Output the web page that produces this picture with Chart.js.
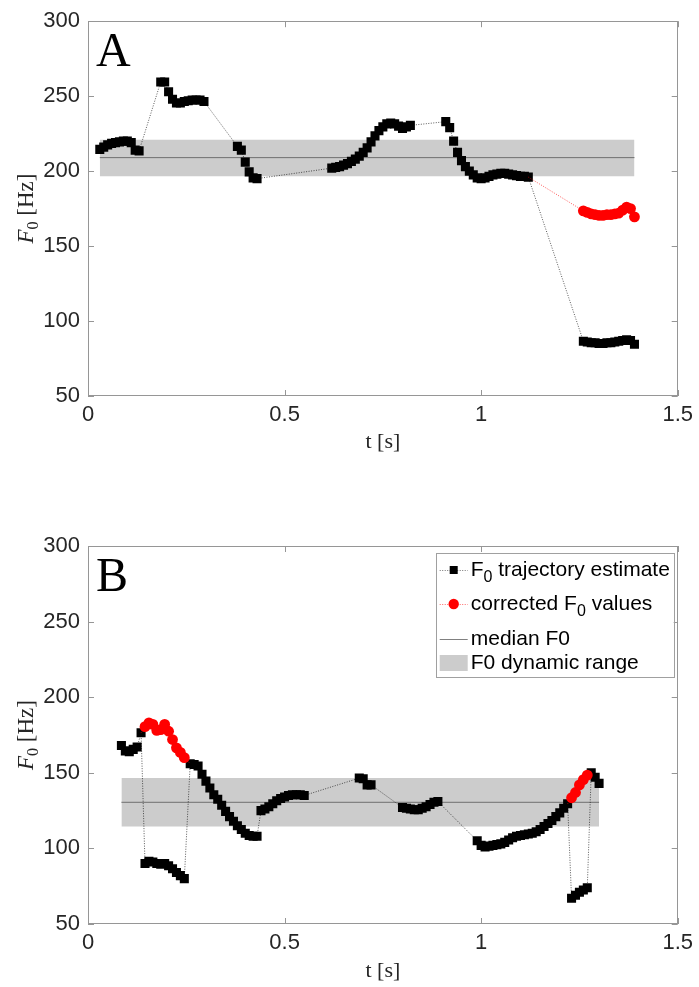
<!DOCTYPE html>
<html lang="en">
<head>
<meta charset="UTF-8">
<title>F0 trajectory estimates</title>
<script src="https://cdn.jsdelivr.net/npm/chart.js@4.4.0/dist/chart.umd.min.js"></script>
<style>
  html, body { margin: 0; padding: 0; background: #fff; }
  .panel { position: absolute; left: 0; width: 699px; }
  #panelA { top: 0; height: 470px; }
  #panelB { top: 500px; height: 487px; }
</style>
</head>
<body>
<div class="panel" id="panelA"><canvas id="chartA"></canvas></div>
<div class="panel" id="panelB"><canvas id="chartB"></canvas></div>

<script>
// ---- Panel A data ----
const timeA = [0.03, 0.04, 0.05, 0.06, 0.07, 0.08, 0.09, 0.10, 0.11, 0.12, 0.13,
  0.185, 0.195, 0.205, 0.215, 0.225, 0.235, 0.245, 0.255, 0.265, 0.275, 0.285, 0.295,
  0.38, 0.39, 0.40, 0.41, 0.42, 0.43,
  0.62, 0.63, 0.64, 0.65, 0.66, 0.67, 0.68, 0.69, 0.70, 0.71, 0.72, 0.73, 0.74, 0.75,
  0.76, 0.77, 0.78, 0.79, 0.80, 0.81, 0.82,
  0.91, 0.92, 0.93, 0.94, 0.95, 0.96, 0.97, 0.98, 0.99, 1.00, 1.01, 1.02, 1.03, 1.04,
  1.05, 1.06, 1.07, 1.08, 1.09, 1.10, 1.11, 1.12,
  1.26, 1.27, 1.28, 1.29, 1.30, 1.31, 1.32, 1.33, 1.34, 1.35, 1.36, 1.37, 1.38, 1.39];
const f0A = [214.5, 216, 217.5, 218.5, 219, 219.5, 220, 220, 219, 214, 213.5,
  259.5, 259.5, 253, 248, 245.5, 245.5, 246.5, 247, 247.5, 247.5, 247.5, 246.5,
  216.5, 214, 206, 199.5, 195.5, 195,
  202, 202.5, 203, 204, 205, 206.5, 208, 210, 212.5, 215.5, 219.5, 223.5, 227, 229.5,
  231.5, 232, 231.5, 230, 228.5, 229.5, 230.5,
  233, 229, 220, 212.5, 207, 203, 200, 197.5, 195.5, 195, 195.5, 196.5, 197.5, 198,
  198.5, 198.5, 198, 197.5, 197, 196.5, 196.5, 196,
  86.5, 86, 85.5, 85.5, 85, 85, 85.5, 85.5, 86, 86.5, 87, 87.5, 87, 84.5];
const corrTimeA = [1.12, 1.26, 1.27, 1.28, 1.29, 1.30, 1.31, 1.32, 1.33, 1.34, 1.35, 1.36, 1.37, 1.38, 1.39];
const corrF0A = [196, 173.5, 172.5, 171.5, 171, 170.5, 170.5, 171, 171, 171.5, 172, 174, 176, 175, 169.5];
const spanA = [0.03, 1.39];
const rangeA = [196.5, 221];
const medianA = 209;

// ---- Panel B data ----
const timeB = [0.085, 0.095, 0.105, 0.115, 0.125, 0.135,
  0.145, 0.155, 0.165, 0.175, 0.185, 0.195, 0.205, 0.215, 0.225, 0.235, 0.245,
  0.26, 0.27, 0.28, 0.29, 0.30, 0.31, 0.32, 0.33, 0.34, 0.35, 0.36, 0.37, 0.38, 0.39,
  0.40, 0.41, 0.42, 0.43,
  0.44, 0.45, 0.46, 0.47, 0.48, 0.49, 0.50, 0.51, 0.52, 0.53, 0.54, 0.55,
  0.69, 0.70, 0.71, 0.72,
  0.80, 0.81, 0.82, 0.83, 0.84, 0.85, 0.86, 0.87, 0.88, 0.89,
  0.99, 1.00, 1.01, 1.02, 1.03, 1.04, 1.05, 1.06, 1.07, 1.08, 1.09, 1.10, 1.11, 1.12,
  1.13, 1.14, 1.15, 1.16, 1.17, 1.18, 1.19, 1.20, 1.21, 1.22,
  1.23, 1.24, 1.25, 1.26, 1.27,
  1.28, 1.29, 1.30];
const f0B = [168, 164.5, 164, 165.5, 167, 176.5,
  90, 91.5, 91, 90, 89.5, 90, 88.5, 86.5, 84, 82, 80,
  156, 155.5, 154.5, 149, 144.5, 140, 135.5, 132.5, 128.5, 124.5, 121, 118, 115, 112.5,
  110, 108.5, 108, 108,
  125, 126, 127.5, 129.5, 131.5, 133, 134, 135, 135.5, 135.5, 135.5, 135,
  146.5, 146, 142, 142,
  127, 126.5, 126, 125.5, 125.5, 126.5, 127.5, 129, 130.5, 131,
  105, 102, 101, 101.5, 102, 102.5, 103, 104, 105.5, 107, 108, 108.5, 109, 109.5,
  110, 111, 112.5, 114.5, 116.5, 118.5, 121, 123.5, 126.5, 129.5,
  67, 69, 71, 72.5, 74,
  150, 147, 143];
const corrTimeB = [0.135, 0.145, 0.155, 0.165, 0.175, 0.185, 0.195, 0.205, 0.215, 0.225, 0.235, 0.245, 0.26,
  null, 1.22, 1.23, 1.24, 1.25, 1.26, 1.27, 1.28];
const corrF0B = [176.5, 180.5, 183, 182, 178, 178.5, 182, 177.5, 172, 166.5, 163.5, 160, 156,
  null, 129.5, 133.5, 137, 142, 145.5, 148.5, 150];
const spanB = [0.085, 1.30];
const rangeB = [114.5, 146.5];
const medianB = 130.5;

const tickFont = { family: 'Liberation Sans', size: 22 };
const serif = '"Liberation Serif", "DejaVu Serif", serif';
const sans = '"Liberation Sans", Arial, sans-serif';

function toPoints(ts, fs) {
  return ts.map((t, i) => (t === null ? { x: NaN, y: NaN } : { x: t, y: fs[i] }));
}

// corrected points that coincide with the estimate are only line anchors
function anchorRadius(ts, fs, baseT, baseF) {
  return ts.map((t, i) => baseT.some((bt, j) => bt === t && baseF[j] === fs[i]) ? 0 : 5.4);
}

// box, inward ticks, panel letter and axis titles
const framePlugin = {
  id: 'frame',
  afterDatasetsDraw(chart, args, opts) {
    const { ctx, chartArea: a, scales: { x, y } } = chart;
    ctx.save();
    ctx.strokeStyle = '#969696';
    ctx.lineWidth = 1;
    ctx.strokeRect(Math.round(a.left) + 0.5, Math.round(a.top) + 0.5,
      Math.round(a.width) - 1, Math.round(a.height) - 1);
    const len = 6;
    ctx.beginPath();
    x.ticks.forEach(tk => {
      const px = Math.round(x.getPixelForValue(tk.value)) + 0.5;
      ctx.moveTo(px, a.bottom); ctx.lineTo(px, a.bottom - len);
      ctx.moveTo(px, a.top); ctx.lineTo(px, a.top + len);
    });
    y.ticks.forEach(tk => {
      const py = Math.round(y.getPixelForValue(tk.value)) + 0.5;
      ctx.moveTo(a.left, py); ctx.lineTo(a.left + len, py);
      ctx.moveTo(a.right, py); ctx.lineTo(a.right - len, py);
    });
    ctx.stroke();

    // panel letter
    ctx.fillStyle = '#000';
    ctx.font = '48px ' + serif;
    ctx.textAlign = 'left';
    ctx.textBaseline = 'alphabetic';
    ctx.fillText(opts.letter, a.left + 8, a.top + 45);

    // x title
    ctx.fillStyle = '#262626';
    ctx.font = '22px ' + serif;
    ctx.textAlign = 'center';
    ctx.textBaseline = 'middle';
    ctx.fillText('t [s]', (a.left + a.right) / 2, a.bottom + opts.xTitleOffset);

    // y title: italic F with subscript 0, then [Hz]
    const big = '23px ' + serif;
    const bigIt = 'italic 23px ' + serif;
    const small = '16px ' + serif;
    ctx.font = bigIt; const wF = ctx.measureText('F').width;
    ctx.font = small; const w0 = ctx.measureText('0').width;
    ctx.font = big; const wHz = ctx.measureText(' [Hz]').width;
    const total = wF + w0 + wHz;
    ctx.translate(26, (a.top + a.bottom) / 2);
    ctx.rotate(-Math.PI / 2);
    ctx.textAlign = 'left';
    ctx.textBaseline = 'alphabetic';
    let cx = -total / 2;
    ctx.font = bigIt; ctx.fillText('F', cx, 7); cx += wF;
    ctx.font = small; ctx.fillText('0', cx, 12); cx += w0;
    ctx.font = big; ctx.fillText(' [Hz]', cx, 7);
    ctx.restore();
  }
};

// MATLAB-style legend in the upper right of panel B
const legendPlugin = {
  id: 'f0legend',
  afterDraw(chart, args, opts) {
    if (!opts.show) return;
    const { ctx, chartArea: a } = chart;
    const left = a.right - 242, top = a.top + 7, w = 238, h = 124;
    ctx.save();
    ctx.fillStyle = '#fff';
    ctx.fillRect(left, top, w, h);
    ctx.strokeStyle = '#a0a0a0';
    ctx.lineWidth = 1;
    ctx.strokeRect(Math.round(left) + 0.5, Math.round(top) + 0.5, w, h);

    const rows = [
      { y: top + 17, kind: 'est', pre: 'F', sub: '0', post: ' trajectory estimate' },
      { y: top + 51, kind: 'corr', pre: 'corrected F', sub: '0', post: ' values' },
      { y: top + 86, kind: 'median', pre: 'median F0', sub: '', post: '' },
      { y: top + 110, kind: 'range', pre: 'F0 dynamic range', sub: '', post: '' }
    ];
    const sx0 = left + 4, sx1 = left + 32, mx = left + 18, tx = left + 35;
    rows.forEach(r => {
      ctx.setLineDash([]);
      if (r.kind === 'est' || r.kind === 'corr') {
        ctx.strokeStyle = r.kind === 'est' ? 'rgba(0,0,0,0.55)' : 'rgba(255,0,0,0.6)';
        ctx.setLineDash([1, 1.5]);
        ctx.beginPath(); ctx.moveTo(sx0, r.y + 0.5); ctx.lineTo(sx1, r.y + 0.5); ctx.stroke();
        ctx.setLineDash([]);
        if (r.kind === 'est') {
          ctx.fillStyle = '#000';
          ctx.fillRect(mx - 4, r.y - 4, 8, 8);
        } else {
          ctx.fillStyle = '#ff0000';
          ctx.beginPath(); ctx.arc(mx, r.y, 5.2, 0, Math.PI * 2); ctx.fill();
        }
      } else if (r.kind === 'median') {
        ctx.strokeStyle = '#808080';
        ctx.beginPath(); ctx.moveTo(sx0, r.y + 0.5); ctx.lineTo(sx1, r.y + 0.5); ctx.stroke();
      } else {
        ctx.fillStyle = '#cccccc';
        ctx.fillRect(sx0, r.y - 8, sx1 - sx0, 16);
      }
      ctx.fillStyle = '#000';
      ctx.textAlign = 'left';
      ctx.textBaseline = 'middle';
      ctx.font = '21px ' + sans;
      let cx = tx;
      ctx.fillText(r.pre, cx, r.y); cx += ctx.measureText(r.pre).width;
      if (r.sub) {
        ctx.font = '16px ' + sans;
        ctx.fillText(r.sub, cx, r.y + 8); cx += ctx.measureText(r.sub).width;
        ctx.font = '21px ' + sans;
        ctx.fillText(r.post, cx, r.y);
      }
    });
    ctx.restore();
  }
};

function makeChart(id, p) {
  const ctx = document.getElementById(id).getContext('2d');
  return new Chart(ctx, {
    type: 'scatter',
    data: {
      datasets: [
        {
          label: 'corrected F0 values',
          data: toPoints(p.corrT, p.corrF),
          showLine: true,
          spanGaps: false,
          borderColor: 'rgba(255,0,0,0.65)',
          borderWidth: 1,
          borderDash: [1, 1.5],
          pointStyle: 'circle',
          pointRadius: anchorRadius(p.corrT, p.corrF, p.t, p.f),
          pointBackgroundColor: '#ff0000',
          pointBorderWidth: 0,
          order: 1
        },
        {
          label: 'F0 trajectory estimate',
          data: toPoints(p.t, p.f),
          showLine: true,
          borderColor: 'rgba(0,0,0,0.65)',
          borderWidth: 1,
          borderDash: [1, 1.5],
          pointStyle: 'rect',
          pointRadius: 6.4,
          pointBackgroundColor: '#000',
          pointBorderWidth: 0,
          order: 2
        },
        {
          label: 'median F0',
          data: [{ x: p.span[0], y: p.median }, { x: p.span[1], y: p.median }],
          showLine: true,
          borderColor: '#6e6e6e',
          borderWidth: 1,
          pointRadius: 0,
          order: 3
        },
        {
          label: 'F0 dynamic range',
          data: [{ x: p.span[0], y: p.range[1] }, { x: p.span[1], y: p.range[1] }],
          showLine: true,
          borderWidth: 0,
          pointRadius: 0,
          backgroundColor: '#cccccc',
          fill: '+1',
          order: 4
        },
        {
          label: 'range low',
          data: [{ x: p.span[0], y: p.range[0] }, { x: p.span[1], y: p.range[0] }],
          showLine: true,
          borderWidth: 0,
          pointRadius: 0,
          fill: false,
          order: 5
        }
      ]
    },
    options: {
      responsive: true,
      maintainAspectRatio: false,
      animation: false,
      layout: { padding: { top: p.padTop, right: 17, left: 0, bottom: 0 } },
      plugins: {
        legend: { display: false },
        tooltip: { enabled: false },
        frame: { letter: p.letter, xTitleOffset: p.xTitleOffset },
        f0legend: { show: p.legend }
      },
      scales: {
        x: {
          type: 'linear', min: 0, max: 1.5,
          grid: { display: false, drawTicks: false }, border: { display: false },
          ticks: {
            stepSize: 0.5, padding: 6, color: '#262626', font: tickFont,
            maxRotation: 0, autoSkip: false,
            callback: v => String(Math.round(v * 10) / 10)
          },
          afterFit(s) { s.height = p.xHeight; }
        },
        y: {
          type: 'linear', min: 50, max: 300,
          grid: { display: false, drawTicks: false }, border: { display: false },
          ticks: { stepSize: 50, padding: 8, color: '#262626', font: tickFont },
          afterFit(s) { s.width = 88; }
        }
      }
    },
    plugins: [framePlugin, legendPlugin]
  });
}

makeChart('chartA', {
  t: timeA, f: f0A, corrT: corrTimeA, corrF: corrF0A,
  span: spanA, range: rangeA, median: medianA,
  letter: 'A', legend: false, padTop: 18, xHeight: 74, xTitleOffset: 46
});
makeChart('chartB', {
  t: timeB, f: f0B, corrT: corrTimeB, corrF: corrF0B,
  span: spanB, range: rangeB, median: medianB,
  letter: 'B', legend: true, padTop: 46, xHeight: 63, xTitleOffset: 47
});
</script>
</body>
</html>
